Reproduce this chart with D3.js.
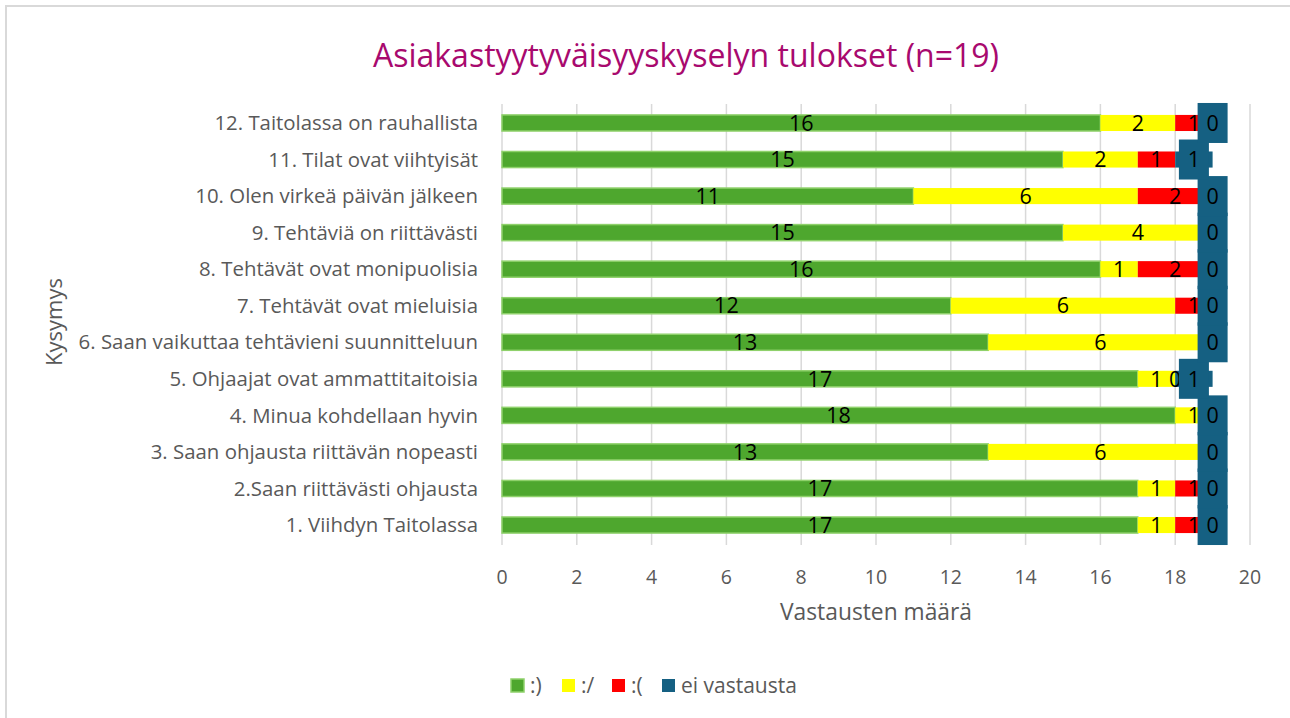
<!DOCTYPE html>
<meta charset="utf-8">
<script src="https://d3js.org/d3.v7.min.js"></script>
<style>body{margin:0;background:#fff;} text{font-family:'Open Sans',Roboto,sans-serif;}</style>
<svg id="chart"></svg>
<script>
// kysymykset alhaalta ylös
var questions=['1. Viihdyn Taitolassa','2.Saan riittävästi ohjausta','3. Saan ohjausta riittävän nopeasti',
  '4. Minua kohdellaan hyvin','5. Ohjaajat ovat ammattitaitoisia','6. Saan vaikuttaa tehtävieni suunnitteluun',
  '7. Tehtävät ovat mieluisia','8. Tehtävät ovat monipuolisia','9. Tehtäviä on riittävästi',
  '10. Olen virkeä päivän jälkeen','11. Tilat ovat viihtyisät','12. Taitolassa on rauhallista'];
var seriesNames=[':)',':/',':(','ei vastausta'];
var happy  =[17,17,13,18,17,13,12,16,15,11,15,16];
var neutral=[1,1,6,1,1,6,6,1,4,6,2,2];
var sad    =[1,1,0,0,0,0,1,2,0,2,1,1];
var noAns  =[0,0,0,0,1,0,0,0,0,0,1,0];
var xTicks=[0,2,4,6,8,10,12,14,16,18,20];
var colors=['#4ea72e','#ffff00','#ff0000','#156082'];

var W=1290,H=718;
var svg=d3.select('#chart').attr('width',W).attr('height',H);
svg.append('rect').attr('x',6).attr('y',6).attr('width',W+20).attr('height',H+20)
   .attr('fill','#fff').attr('stroke','#d9d9d9').attr('stroke-width',2);

var x=d3.scaleLinear().domain([0,20]).range([502,1250]);
var y=d3.scaleBand().domain(questions.slice().reverse()).range([104.7,543.3]).paddingInner(0.56).paddingOuter(0.28);

var rows=questions.map(function(q,i){return {q:q,a:happy[i],b:neutral[i],c:sad[i],d:noAns[i]};});
var stack=d3.stack().keys(['a','b','c','d'])(rows);

// ruudukko
svg.append('g').selectAll('line').data(xTicks).join('line')
   .attr('x1',d=>x(d)).attr('x2',d=>x(d)).attr('y1',104).attr('y2',545)
   .attr('stroke','#d9d9d9').attr('stroke-width',1.5);

svg.append('g').selectAll('text').data(xTicks).join('text')
   .attr('x',d=>x(d)).attr('y',584).attr('text-anchor','middle')
   .attr('font-size',19.5).attr('fill','#595959').text(d=>d);

svg.append('g').selectAll('text').data(questions).join('text')
   .attr('x',478).attr('y',d=>y(d)+y.bandwidth()/2).attr('dy','0.35em').attr('text-anchor','end')
   .attr('font-size',20.4).attr('fill','#595959').text(d=>d);

// palkit
stack.forEach(function(s,k){
  svg.append('g').selectAll('rect').data(s).join('rect')
     .attr('x',d=>x(d[0])).attr('width',d=>x(d[1])-x(d[0]))
     .attr('y',d=>y(d.data.q)).attr('height',y.bandwidth())
     .attr('fill',colors[k])
     .attr('stroke',k==0?'#8fd16b':'none').attr('stroke-width',1.5);
});

// arvotunnisteet
stack.forEach(function(s,k){
  var g=svg.append('g');
  s.forEach(function(d){
    var cx=x((d[0]+d[1])/2),cy=y(d.data.q)+y.bandwidth()/2;
    if(k==3) g.append('rect').attr('x',cx-15).attr('y',cy-20).attr('width',30).attr('height',40).attr('fill',colors[3]);
    g.append('text').attr('x',cx).attr('y',cy).attr('dy','0.36em').attr('text-anchor','middle')
     .attr('font-size',21.5).attr('fill','#000').text(d[1]-d[0]);
  });
});

svg.append('text').attr('x',686).attr('y',67).attr('text-anchor','middle')
   .attr('font-size',32).attr('fill','#a8096e').text('Asiakastyytyväisyyskyselyn tulokset (n=19)');
svg.append('text').attr('x',876).attr('y',620).attr('text-anchor','middle')
   .attr('font-size',22.8).attr('fill','#595959').text('Vastausten määrä');
svg.append('text').attr('transform','translate(62,322) rotate(-90)').attr('text-anchor','middle')
   .attr('font-size',22).attr('fill','#595959').text('Kysymys');

// selite
var legX=[511,562,612,662];
var leg=svg.append('g').selectAll('g').data(seriesNames).join('g')
   .attr('transform',(d,i)=>'translate('+legX[i]+',679)');
leg.append('rect').attr('width',13).attr('height',13).attr('fill',(d,i)=>colors[i])
   .attr('stroke',(d,i)=>i==0?'#8fd16b':'none').attr('stroke-width',1.5);
leg.append('text').attr('x',19).attr('y',6.5).attr('dy','0.35em').attr('font-size',21)
   .attr('fill','#595959').text(d=>d);
</script>
